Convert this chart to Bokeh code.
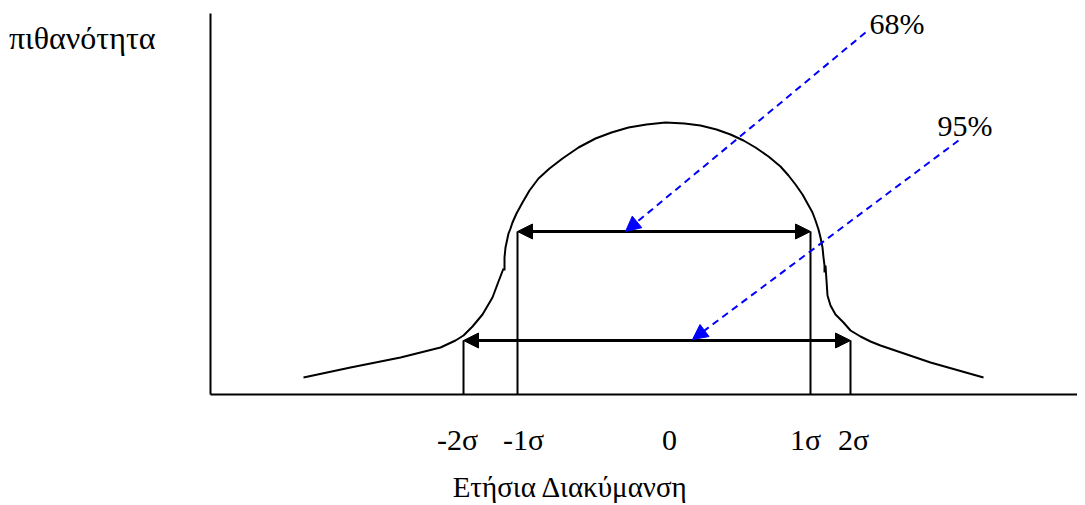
from bokeh.plotting import figure
from bokeh.models import Range1d, FixedTicker, Arrow, NormalHead, Label, LinearAxis
from bokeh.embed import file_html
from bokeh.resources import INLINE

# ---- data (x: distance from the vertical axis, y: height above the horizontal axis) ----
left_tail_x = [93, 140, 190, 230, 245, 253, 262, 272, 282, 288, 293]
left_tail_y = [17, 27, 37, 47, 54, 59, 68, 80, 97, 113, 126]

dome_x = [294, 294, 295, 298, 300, 302, 306, 312, 319, 328, 339, 352, 368, 385, 401,
          418, 436, 455, 474, 490, 506, 520, 533, 545, 558, 570, 578, 585, 592, 597,
          602, 605, 608, 610, 612, 613, 614, 614]
dome_y = [124, 137, 147, 161, 166, 172, 181, 192, 204, 216, 226, 236, 247, 256, 262,
          267, 270, 272, 271, 269, 265, 260, 254, 247, 238, 228, 219, 210, 200, 191,
          182, 174, 165, 157, 147, 137, 129, 122]

right_tail_x = [615, 616, 617, 620, 625, 633, 640, 650, 660, 670, 720, 773]
right_tail_y = [129, 114, 99, 89, 80, 72, 64, 58, 53, 49, 32, 17]

tick_positions = [247, 313, 459, 595, 643]
tick_labels = ["-2σ", "-1σ", "0", "1σ", "2σ"]

# intervals: (left, right, height of arrow)
interval_names = ["68%", "95%"]
interval_left = [307, 253]
interval_right = [600, 640]
interval_level = [163, 54]

# blue pointers: start (near label) -> tip on interval arrow
pointer_start_x = [655, 748]
pointer_start_y = [362, 254]
pointer_end_x = [415, 482]
pointer_end_y = [163, 55]

# percentage labels (left x, baseline y)
pct_label_x = [659, 727]
pct_label_y = [371, 269]

y_title = "πιθανότητα"
y_title_pos = 357
x_title = "Ετήσια Διακύμανση"
x_title_pos = 360

FONT = "Liberation Serif"
FS = "30px"

p = figure(width=1077, height=505, output_backend="svg", toolbar_location=None,
           x_range=Range1d(0, 867), y_range=Range1d(0, 381),
           min_border_left=210, min_border_top=13, min_border_right=0,
           min_border_bottom=111)
p.frame_width = 867
p.frame_height = 381
p.outline_line_color = None
p.grid.visible = False
p.background_fill_color = "white"
p.border_fill_color = "white"

# axes
for ax in (p.xaxis[0], p.yaxis[0]):
    ax.axis_line_width = 2
    ax.axis_line_color = "black"
    ax.major_tick_line_color = None
    ax.minor_tick_line_color = None
    ax.major_tick_out = 0
    ax.major_tick_in = 0
    ax.major_label_text_font = FONT
    ax.major_label_text_font_size = FS
    ax.major_label_text_color = "black"

p.yaxis.ticker = FixedTicker(ticks=[y_title_pos])
p.yaxis.major_label_overrides = {y_title_pos: y_title}
p.yaxis.major_label_orientation = "horizontal"
p.yaxis.major_label_standoff = 55
p.yaxis.major_label_text_font_size = "32px"

p.xaxis.ticker = FixedTicker(ticks=tick_positions)
p.xaxis.major_label_overrides = {t: l for t, l in zip(tick_positions, tick_labels)}
p.xaxis.major_label_standoff = 28

title_axis = LinearAxis(ticker=FixedTicker(ticks=[x_title_pos]),
                        major_label_overrides={x_title_pos: x_title},
                        axis_line_color=None, major_tick_line_color=None,
                        minor_tick_line_color=None, major_tick_out=0, major_tick_in=0,
                        major_label_standoff=12, major_label_text_font=FONT,
                        major_label_text_font_size="29px", major_label_text_color="black")
p.add_layout(title_axis, "below")

# curve
for xs, ys in ((left_tail_x, left_tail_y), (dome_x, dome_y), (right_tail_x, right_tail_y)):
    p.line(xs, ys, line_width=2, line_color="black")

# interval verticals and double arrows
for l, r, h in zip(interval_left, interval_right, interval_level):
    p.segment(x0=[l, r], y0=[0, 0], x1=[l, r], y1=[h, h], line_width=2, line_color="black")
    p.add_layout(Arrow(x_start=l, y_start=h, x_end=r, y_end=h, line_width=3,
                       line_color="black",
                       start=NormalHead(size=15, fill_color="black", line_color="black"),
                       end=NormalHead(size=15, fill_color="black", line_color="black")))

# blue dashed pointers
for xs, ys, xe, ye in zip(pointer_start_x, pointer_start_y, pointer_end_x, pointer_end_y):
    p.add_layout(Arrow(x_start=xs, y_start=ys, x_end=xe, y_end=ye, line_width=2,
                       line_color="blue", line_dash="7 5",
                       end=NormalHead(size=15, fill_color="blue", line_color="blue",
                                      line_width=1)))

# percentage texts
for name, x, y in zip(interval_names, pct_label_x, pct_label_y):
    p.add_layout(Label(x=x, y=y, text=name, text_font=FONT, text_font_size=FS,
                       text_baseline="alphabetic", text_color="black"))

open("out.html", "w").write(file_html(p, INLINE))
